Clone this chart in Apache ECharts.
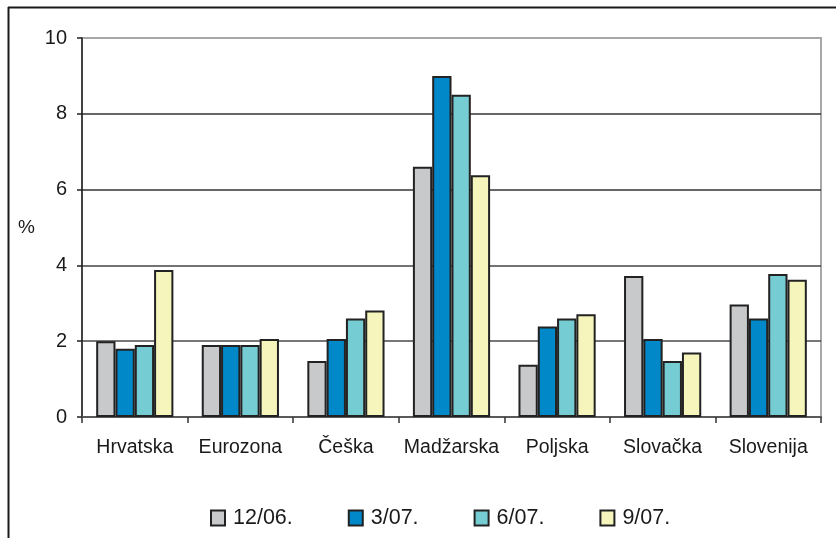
<!DOCTYPE html>
<html>
<head>
<meta charset="utf-8">
<style>
  html, body { margin: 0; padding: 0; background: #fff; }
  #chart { width: 836px; height: 538px; }
</style>
<script src="https://cdn.jsdelivr.net/npm/echarts@6/dist/echarts.min.js"></script>
</head>
<body>
<div id="chart"></div>
<script>
// Countries along the x axis
const categories = ['Hrvatska', 'Eurozona', 'Češka', 'Madžarska', 'Poljska', 'Slovačka', 'Slovenija'];

// One series per reporting month, values in %
const seriesNames = ['12/06.', '3/07.', '6/07.', '9/07.'];
const s1206 = [2.0, 1.9, 1.48, 6.6, 1.38, 3.72, 2.97];
const s0307 = [1.8, 1.9, 2.06, 9.0, 2.39, 2.06, 2.6];
const s0607 = [1.9, 1.9, 2.6, 8.5, 2.6, 1.48, 3.77];
const s0907 = [3.88, 2.06, 2.81, 6.38, 2.71, 1.7, 3.62];

// Value axis ticks
const yTicks = [0, 2, 4, 6, 8, 10];

const seriesData = [s1206, s0307, s0607, s0907];
const fills = ['#c8c9cb', '#0088c9', '#76ccd3', '#f6f6bc'];

const chart = echarts.init(document.getElementById('chart'), null, { renderer: 'canvas' });

const font = 'Liberation Sans, Arial, Helvetica, sans-serif';

chart.setOption({
  animation: false,
  backgroundColor: '#ffffff',
  textStyle: { fontFamily: font },
  grid: {
    left: 82, top: 38, right: 15, bottom: 121,
    show: true,
    borderColor: '#a8a8a8',
    borderWidth: 2,
    backgroundColor: 'transparent'
  },
  legend: {
    left: 210,
    top: 507,
    padding: 0,
    itemWidth: 14,
    itemHeight: 15,
    itemGap: 55,
    icon: 'rect',
    textStyle: { fontSize: 21.5, color: '#1a1a1a', fontFamily: font, padding: [0, 0, 0, 3] },
    data: seriesNames
  },
  xAxis: {
    type: 'category',
    data: categories,
    axisLine: { lineStyle: { color: '#5a5a5a', width: 2 } },
    axisTick: { show: true, inside: false, length: 6, alignWithLabel: false, lineStyle: { color: '#333', width: 1.5 } },
    axisLabel: { fontSize: 19.5, color: '#1a1a1a', margin: 21, fontFamily: font, interval: 0 },
    splitLine: { show: false }
  },
  yAxis: {
    type: 'value',
    min: yTicks[0],
    max: yTicks[yTicks.length - 1],
    interval: yTicks[1] - yTicks[0],
    name: '%',
    nameLocation: 'middle',
    nameRotate: 0,
    nameGap: 47,
    nameTextStyle: { fontSize: 19, color: '#1a1a1a', fontFamily: font },
    axisLine: { show: true, lineStyle: { color: '#222', width: 1.5 } },
    axisTick: { show: true, inside: false, length: 5, lineStyle: { color: '#222', width: 1.5 } },
    axisLabel: { fontSize: 20, color: '#1a1a1a', margin: 15, fontFamily: font },
    splitLine: {
      show: true,
      lineStyle: { color: ['#5a5a5a', '#4a4a4a', '#444', '#333', '#333', '#a8a8a8'], width: 1.5 }
    }
  },
  series: seriesNames.map((name, i) => ({
    name: name,
    type: 'bar',
    data: seriesData[i],
    barWidth: 19.3,
    barGap: '0%',
    itemStyle: {
      color: fills[i],
      borderColor: '#222',
      borderWidth: 2
    }
  })),
  graphic: [
    {
      type: 'line',
      shape: { x1: 8, y1: 7.5, x2: 836, y2: 7.5 },
      style: { stroke: '#1a1a1a', lineWidth: 2 }
    },
    {
      type: 'line',
      shape: { x1: 8.5, y1: 7, x2: 8.5, y2: 538 },
      style: { stroke: '#1a1a1a', lineWidth: 2 }
    }
  ]
});
</script>
</body>
</html>
